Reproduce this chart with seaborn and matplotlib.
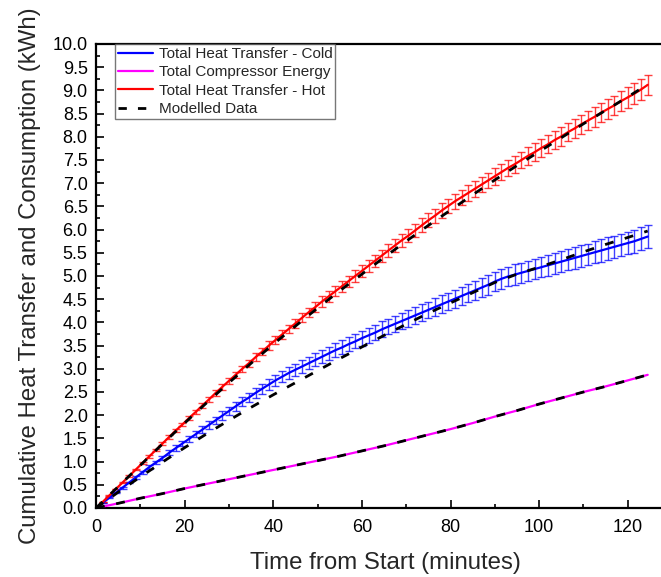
import numpy as np
import pandas as pd
import matplotlib
matplotlib.use("Agg")
import matplotlib.pyplot as plt
from matplotlib.lines import Line2D
from matplotlib.ticker import MultipleLocator, FormatStrFormatter
import seaborn as sns

# ---------------- data ----------------
time_min = [i * 1.5 for i in range(84)]  # measurement times (min)

hot_total = [0.00, 0.13, 0.27, 0.41, 0.55, 0.69, 0.83, 0.97, 1.11, 1.25,
             1.39, 1.53, 1.67, 1.80, 1.94, 2.07, 2.21, 2.34, 2.48, 2.61,
             2.74, 2.87, 3.00, 3.12, 3.25, 3.37, 3.50, 3.62, 3.74, 3.86,
             3.98, 4.10, 4.22, 4.33, 4.45, 4.56, 4.67, 4.78, 4.89, 5.00,
             5.11, 5.22, 5.33, 5.44, 5.55, 5.66, 5.77, 5.87, 5.98, 6.09,
             6.20, 6.30, 6.41, 6.51, 6.61, 6.70, 6.79, 6.88, 6.97, 7.06,
             7.15, 7.24, 7.33, 7.41, 7.50, 7.59, 7.67, 7.76, 7.84, 7.93,
             8.01, 8.10, 8.18, 8.27, 8.35, 8.43, 8.52, 8.60, 8.68, 8.77,
             8.85, 8.93, 9.02, 9.12]
hot_err = [0.00, 0.01, 0.01, 0.01, 0.01, 0.02, 0.02, 0.02, 0.03, 0.03,
           0.03, 0.04, 0.04, 0.04, 0.05, 0.05, 0.05, 0.06, 0.06, 0.06,
           0.07, 0.07, 0.07, 0.08, 0.08, 0.08, 0.09, 0.09, 0.09, 0.09,
           0.10, 0.10, 0.10, 0.11, 0.11, 0.11, 0.11, 0.12, 0.12, 0.12,
           0.13, 0.13, 0.13, 0.13, 0.14, 0.14, 0.14, 0.14, 0.15, 0.15,
           0.15, 0.15, 0.16, 0.16, 0.16, 0.16, 0.17, 0.17, 0.17, 0.17,
           0.18, 0.18, 0.18, 0.18, 0.18, 0.19, 0.19, 0.19, 0.19, 0.19,
           0.20, 0.20, 0.20, 0.20, 0.20, 0.21, 0.21, 0.21, 0.21, 0.21,
           0.22, 0.22, 0.22, 0.22]

cold_total = [0.00, 0.11, 0.22, 0.33, 0.44, 0.55, 0.66, 0.77, 0.88, 0.98,
              1.08, 1.19, 1.29, 1.39, 1.49, 1.59, 1.69, 1.79, 1.89, 1.99,
              2.09, 2.19, 2.29, 2.38, 2.48, 2.57, 2.66, 2.75, 2.83, 2.91,
              2.98, 3.05, 3.12, 3.19, 3.26, 3.33, 3.40, 3.46, 3.53, 3.59,
              3.66, 3.72, 3.78, 3.85, 3.91, 3.97, 4.03, 4.09, 4.15, 4.21,
              4.27, 4.33, 4.39, 4.45, 4.51, 4.57, 4.63, 4.69, 4.75, 4.81,
              4.88, 4.94, 4.99, 5.03, 5.07, 5.11, 5.15, 5.19, 5.23, 5.27,
              5.31, 5.35, 5.39, 5.43, 5.47, 5.51, 5.55, 5.59, 5.63, 5.67,
              5.71, 5.75, 5.80, 5.85]
cold_err = [0.00, 0.00, 0.01, 0.01, 0.02, 0.02, 0.03, 0.03, 0.04, 0.04,
            0.05, 0.05, 0.06, 0.06, 0.06, 0.07, 0.07, 0.08, 0.08, 0.09,
            0.09, 0.09, 0.10, 0.10, 0.11, 0.11, 0.11, 0.12, 0.12, 0.13,
            0.13, 0.13, 0.13, 0.14, 0.14, 0.14, 0.15, 0.15, 0.15, 0.15,
            0.16, 0.16, 0.16, 0.17, 0.17, 0.17, 0.17, 0.18, 0.18, 0.18,
            0.18, 0.19, 0.19, 0.19, 0.19, 0.20, 0.20, 0.20, 0.20, 0.21,
            0.21, 0.21, 0.21, 0.22, 0.22, 0.22, 0.22, 0.22, 0.22, 0.23,
            0.23, 0.23, 0.23, 0.23, 0.23, 0.24, 0.24, 0.24, 0.24, 0.24,
            0.24, 0.25, 0.25, 0.25]

coarse_time = [0, 5, 10, 15, 20, 25, 30, 35, 40, 45, 50, 55, 60, 65, 70,
               75, 80, 85, 90, 95, 100, 105, 110, 115, 120, 124.5]
compressor_total = [0.00, 0.10, 0.21, 0.31, 0.42, 0.52, 0.62, 0.72, 0.82,
                    0.92, 1.02, 1.12, 1.23, 1.34, 1.46, 1.58, 1.70, 1.83,
                    1.97, 2.10, 2.24, 2.37, 2.50, 2.62, 2.75, 2.87]

model_hot = [0.00, 0.46, 0.92, 1.38, 1.83, 2.27, 2.70, 3.12, 3.53, 3.92,
             4.31, 4.68, 5.04, 5.40, 5.75, 6.09, 6.42, 6.75, 7.07, 7.38,
             7.68, 7.98, 8.28, 8.57, 8.86, 9.13]
model_cold = [0.00, 0.34, 0.67, 0.99, 1.30, 1.60, 1.89, 2.17, 2.44, 2.70,
              2.96, 3.22, 3.47, 3.72, 3.96, 4.20, 4.42, 4.64, 4.86, 5.04,
              5.19, 5.35, 5.52, 5.68, 5.83, 5.97]
model_comp = [0.00, 0.10, 0.21, 0.31, 0.42, 0.52, 0.62, 0.72, 0.82,
              0.92, 1.02, 1.12, 1.23, 1.34, 1.46, 1.58, 1.70, 1.83,
              1.97, 2.10, 2.24, 2.37, 2.50, 2.62, 2.75, 2.87]

legend_labels = ["Total Heat Transfer - Cold", "Total Compressor Energy",
                 "Total Heat Transfer - Hot", "Modelled Data"]

# ---------------- style ----------------
sns.set_theme(style="ticks")
plt.rcParams["font.family"] = ["Liberation Sans", "DejaVu Sans"]

W, H = 661, 577
fig = plt.figure(figsize=(W / 100, H / 100), dpi=100)
ax = fig.add_axes([96 / W, 1 - 508 / H, 1 - 96 / W, (508 - 44) / H])

C_BLUE, C_MAG, C_RED = "#0000ff", "#ff00ff", "#ff0000"
dash = (0, (3.2, 4.2))

# error bars
ax.errorbar(time_min, cold_total, yerr=cold_err, fmt="none", ecolor=C_BLUE,
            elinewidth=1.0, capsize=2.6, capthick=1.0, alpha=0.75, zorder=2)
ax.errorbar(time_min, hot_total, yerr=hot_err, fmt="none", ecolor=C_RED,
            elinewidth=1.0, capsize=2.6, capthick=1.0, alpha=0.75, zorder=2)

# measured lines
sns.lineplot(x=time_min, y=cold_total, ax=ax, color=C_BLUE, lw=1.6, zorder=3)
sns.lineplot(x=coarse_time, y=compressor_total, ax=ax, color=C_MAG, lw=1.6, zorder=3)
sns.lineplot(x=time_min, y=hot_total, ax=ax, color=C_RED, lw=1.6, zorder=3)

# model lines
for m in (model_cold, model_comp, model_hot):
    sns.lineplot(x=coarse_time, y=m, ax=ax, color="black", lw=2.0,
                 linestyle=dash, zorder=4)

ax.set_xlim(0, 127.5)
ax.set_ylim(0, 10)
ax.xaxis.set_major_locator(MultipleLocator(20))
ax.xaxis.set_minor_locator(MultipleLocator(10))
ax.yaxis.set_major_locator(MultipleLocator(0.5))
ax.yaxis.set_minor_locator(MultipleLocator(0.25))
ax.yaxis.set_major_formatter(FormatStrFormatter("%.1f"))

ax.tick_params(which="both", direction="in", colors="black", labelsize=13,
               width=1.2, top=False, right=False)
ax.tick_params(which="major", length=6)
ax.tick_params(which="minor", length=3)
ax.tick_params(axis="x", pad=8)
ax.tick_params(axis="y", pad=6)

for s in ("left", "bottom", "top"):
    ax.spines[s].set_visible(True)
    ax.spines[s].set_color("black")
    ax.spines[s].set_linewidth(1.6)
ax.spines["right"].set_visible(False)

ax.set_xlabel("Time from Start (minutes)", fontsize=17.3)
ax.set_ylabel("Cumulative Heat Transfer and Consumption (kWh)", fontsize=17.3,
              labelpad=8)
ax.xaxis.set_label_coords((385 - 96) / (W - 96), -0.095)

handles = [Line2D([], [], color=C_BLUE, lw=1.6),
           Line2D([], [], color=C_MAG, lw=1.6),
           Line2D([], [], color=C_RED, lw=1.6),
           Line2D([], [], color="black", lw=2.0, linestyle=(0, (3, 4)))]
leg = ax.legend(handles, legend_labels, loc="upper left",
                bbox_to_anchor=(19 / (W - 96), 1.0), borderaxespad=0,
                fontsize=11, frameon=True, fancybox=False, handlelength=2.3,
                labelspacing=0.28, borderpad=0.2, handletextpad=0.35)
leg.get_frame().set_edgecolor("#555555")
leg.get_frame().set_linewidth(1.0)

fig.savefig("out.png", dpi=100, facecolor="white")
